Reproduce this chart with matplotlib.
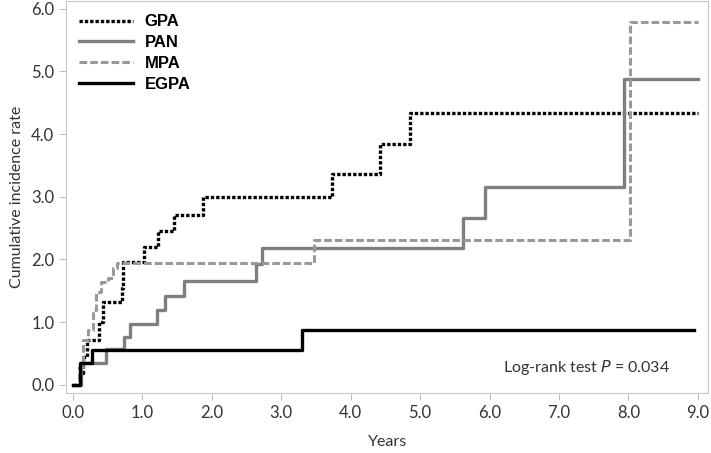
# Cumulative incidence by vasculitis type
import numpy as np
import matplotlib.pyplot as plt

# step curves (years, cumulative incidence rate)
gpa_t = [0.0, 0.05, 0.10, 0.14, 0.20, 0.37, 0.43, 0.70, 0.72, 1.02, 1.22, 1.45, 1.87, 3.73, 4.42, 4.85, 9.0]
gpa_y = [0.0, 0.0, 0.19, 0.45, 0.72, 1.0, 1.32, 1.55, 1.96, 2.2, 2.45, 2.71, 2.99, 3.37, 3.84, 4.34, 4.34]

pan_t = [0.0, 0.05, 0.11, 0.47, 0.73, 0.82, 1.21, 1.32, 1.60, 2.63, 2.72, 5.62, 5.93, 7.94, 9.0]
pan_y = [0.0, 0.0, 0.35, 0.57, 0.77, 0.97, 1.2, 1.42, 1.65, 1.92, 2.18, 2.66, 3.16, 4.88, 4.88]

mpa_t = [0.0, 0.05, 0.09, 0.15, 0.22, 0.29, 0.33, 0.40, 0.50, 0.58, 0.64, 3.47, 8.02, 9.0]
mpa_y = [0.0, 0.0, 0.29, 0.72, 0.88, 1.2, 1.48, 1.64, 1.71, 1.87, 1.95, 2.31, 5.79, 5.79]

egpa_t = [0.0, 0.05, 0.10, 0.27, 3.30, 8.95]
egpa_y = [0.0, 0.0, 0.35, 0.55, 0.87, 0.87]

x_ticks = np.arange(0, 10)
y_ticks = np.arange(0, 7)

plt.rcParams['font.family'] = ['Lato', 'DejaVu Sans']

fig = plt.figure(figsize=(7.11, 4.53), dpi=100)
ax = fig.add_axes([0.093, 0.1325, 0.903, 0.865])

ax.step(gpa_t, gpa_y, where='post', color='black', lw=2.4, ls=(0, (1, 0.6)), label='GPA')
ax.step(pan_t, pan_y, where='post', color='#7f7f7f', lw=2.4, ls='-', label='PAN')
ax.step(mpa_t, mpa_y, where='post', color='#999999', lw=2.2, ls=(0, (2.5, 1.0)), label='MPA')
ax.step(egpa_t, egpa_y, where='post', color='black', lw=2.4, ls='-', label='EGPA')

ax.set_xlim(-0.1, 9.15)
ax.set_ylim(-0.13, 6.12)
ax.set_xticks(x_ticks)
ax.set_xticklabels([f'{v:.1f}' for v in x_ticks])
ax.set_yticks(y_ticks)
ax.set_yticklabels([f'{v:.1f}' for v in y_ticks])

for s in ax.spines.values():
    s.set_color('#c8c8c8')
ax.tick_params(colors='#c0c0c0', labelcolor='#333333', labelsize=12, length=5)

ax.set_xlabel('Years', fontsize=11.5, color='#333333', labelpad=10)
ax.set_ylabel('Cumulative incidence rate', fontsize=11.5, color='#333333', labelpad=5)

leg = ax.legend(loc='upper left', frameon=False, handlelength=3.2,
                borderaxespad=0.4, labelspacing=0.35, handletextpad=0.7,
                prop={'family': 'Liberation Sans', 'weight': 'bold', 'size': 12})

ax.text(7.4, 0.27, 'Log-rank test $\\it{P}$ = 0.034', ha='center', va='center',
        fontsize=11.5, color='#333333')

fig.savefig('out.png', dpi=100)
